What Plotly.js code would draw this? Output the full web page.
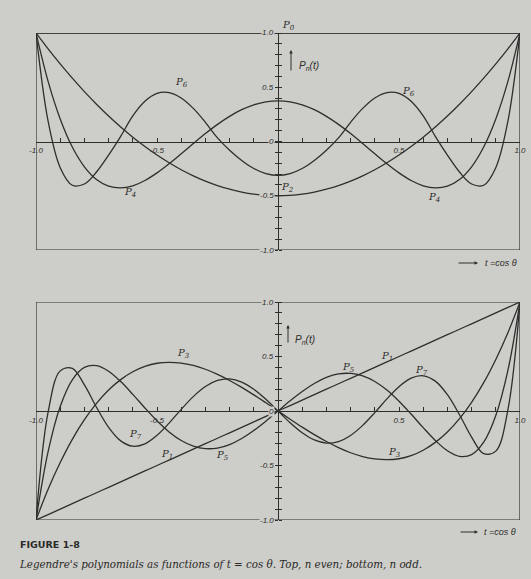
<!DOCTYPE html>
<html>
<head>
<meta charset="utf-8">
<script src="https://cdn.plot.ly/plotly-3.0.1.min.js"></script>
<style>
  html, body { margin: 0; padding: 0; background: #cdcdc9; }
  #chart { width: 531px; height: 579px; }
</style>
</head>
<body>
<div id="chart"></div>
<script>
// Abscissa t = cos(theta), sampled every 0.05
const t = [-1, -0.95, -0.9, -0.85, -0.8, -0.75, -0.7, -0.65, -0.6, -0.55, -0.5,
           -0.45, -0.4, -0.35, -0.3, -0.25, -0.2, -0.15, -0.1, -0.05, 0,
           0.05, 0.1, 0.15, 0.2, 0.25, 0.3, 0.35, 0.4, 0.45, 0.5,
           0.55, 0.6, 0.65, 0.7, 0.75, 0.8, 0.85, 0.9, 0.95, 1];

// Even orders (upper panel)
const p0t = [-1, 1];
const p0 = [1, 1];
const p2 = [1, 0.854, 0.715, 0.584, 0.46, 0.344, 0.235, 0.134, 0.04, -0.046, -0.125,
            -0.196, -0.26, -0.316, -0.365, -0.406, -0.44, -0.466, -0.485, -0.496, -0.5,
            -0.496, -0.485, -0.466, -0.44, -0.406, -0.365, -0.316, -0.26, -0.196, -0.125,
            -0.046, 0.04, 0.134, 0.235, 0.344, 0.46, 0.584, 0.715, 0.854, 1];
const p4 = [1, 0.554, 0.208, -0.051, -0.233, -0.35, -0.412, -0.428, -0.408, -0.359, -0.289,
            -0.205, -0.113, -0.019, 0.073, 0.158, 0.232, 0.293, 0.338, 0.366, 0.375,
            0.366, 0.338, 0.293, 0.232, 0.158, 0.073, -0.019, -0.113, -0.205, -0.289,
            -0.359, -0.408, -0.428, -0.412, -0.35, -0.233, -0.051, 0.208, 0.554, 1];
const p6 = [1, 0.187, -0.241, -0.403, -0.392, -0.281, -0.125, 0.048, 0.236, 0.371, 0.443,
            0.451, 0.401, 0.305, 0.177, 0.033, -0.081, -0.175, -0.249, -0.296, -0.313,
            -0.296, -0.249, -0.175, -0.081, 0.033, 0.177, 0.305, 0.401, 0.451, 0.443,
            0.371, 0.236, 0.048, -0.125, -0.281, -0.392, -0.403, -0.241, 0.187, 1];

// Odd orders (lower panel)
const p1 = [-1, -0.95, -0.9, -0.85, -0.8, -0.75, -0.7, -0.65, -0.6, -0.55, -0.5,
            -0.45, -0.4, -0.35, -0.3, -0.25, -0.2, -0.15, -0.1, -0.05, 0,
            0.05, 0.1, 0.15, 0.2, 0.25, 0.3, 0.35, 0.4, 0.45, 0.5,
            0.55, 0.6, 0.65, 0.7, 0.75, 0.8, 0.85, 0.9, 0.95, 1];
const p3 = [-1, -0.718, -0.473, -0.26, -0.08, 0.07, 0.193, 0.288, 0.36, 0.409, 0.438,
            0.447, 0.44, 0.418, 0.383, 0.336, 0.28, 0.217, 0.148, 0.075, 0,
            -0.075, -0.148, -0.217, -0.28, -0.336, -0.383, -0.418, -0.44, -0.447, -0.438,
            -0.409, -0.36, -0.288, -0.193, -0.07, 0.08, 0.26, 0.473, 0.718, 1];
const p5 = [-1, -0.373, 0.041, 0.286, 0.4, 0.416, 0.365, 0.27, 0.153, 0.028, -0.09,
            -0.192, -0.271, -0.322, -0.345, -0.34, -0.308, -0.252, -0.179, -0.093, 0,
            0.093, 0.179, 0.252, 0.308, 0.34, 0.345, 0.322, 0.271, 0.192, 0.09,
            -0.028, -0.153, -0.27, -0.365, -0.416, -0.4, -0.286, -0.041, 0.373, 1];
const p7 = [-1, -0.011, 0.368, 0.391, 0.24, 0.034, -0.15, -0.274, -0.323, -0.301, -0.223,
            -0.111, 0.015, 0.132, 0.224, 0.28, 0.294, 0.265, 0.199, 0.107, 0,
            -0.107, -0.199, -0.265, -0.294, -0.28, -0.224, -0.132, -0.015, 0.111, 0.223,
            0.301, 0.323, 0.274, 0.15, -0.034, -0.24, -0.391, -0.368, 0.011, 1];

// Axis ticks: a tick every 0.1, labels only at the half units
const xTickVals = [-1, -0.9, -0.8, -0.7, -0.6, -0.5, -0.4, -0.3, -0.2, -0.1, 0,
                   0.1, 0.2, 0.3, 0.4, 0.5, 0.6, 0.7, 0.8, 0.9, 1];
const xTickText = ['-1.0', '', '', '', '', '-0.5', '', '', '', '', '',
                   '', '', '', '', '0.5', '', '', '', '', '1.0'];
const yTickVals = xTickVals;
const yLabelVals = [1, 0.5, 0, -0.5, -1];
const yLabelText = ['1.0', '0.5', '0', '-0.5', '-1.0'];

// Curve name tags: [order, t, value]
const evenTags = [[6, -0.40, 0.54], [6, 0.54, 0.46],
                  [4, -0.61, -0.47], [4, 0.645, -0.52], [2, 0.04, -0.42]];
const oddTags = [[3, -0.39, 0.53], [7, -0.59, -0.22], [1, -0.46, -0.40], [5, -0.23, -0.41],
                 [5, 0.29, 0.40], [1, 0.45, 0.50], [7, 0.595, 0.37], [3, 0.48, -0.38]];

const ink = '#2e2e2c';
const bg = '#cdcdc9';
const W = 531, H = 579, ML = 36, MR = 11;
const px = x => (x - ML) / (W - ML - MR);
const py = y => 1 - y / H;

const topDom = [py(250), py(33)];
const botDom = [py(520), py(302)];

const curve = { color: ink, width: 1.3, shape: 'spline', smoothing: 1 };

function tr(x, y, xa, ya) {
  return { x: x, y: y, xaxis: xa, yaxis: ya, type: 'scatter', mode: 'lines',
           line: curve, hoverinfo: 'skip', showlegend: false };
}

const data = [
  tr(p0t, p0, 'x', 'y'), tr(t, p2, 'x', 'y'), tr(t, p4, 'x', 'y'), tr(t, p6, 'x', 'y'),
  tr(t, p1, 'x2', 'y2'), tr(t, p3, 'x2', 'y2'), tr(t, p5, 'x2', 'y2'), tr(t, p7, 'x2', 'y2'),
  { x: [], y: [], xaxis: 'x', yaxis: 'y3', type: 'scatter', showlegend: false },
  { x: [], y: [], xaxis: 'x2', yaxis: 'y4', type: 'scatter', showlegend: false }
];

const tickFont = { family: 'Liberation Sans, Arial, sans-serif', size: 8, color: ink, style: 'italic' };

function xAxis(pos) {
  return {
    domain: [0, 1], range: [-1, 1], anchor: 'free', position: pos,
    showline: true, linecolor: ink, linewidth: 1.2,
    showgrid: false, zeroline: false,
    tickmode: 'array', tickvals: xTickVals, ticktext: xTickText,
    ticks: 'inside', ticklen: 4, tickwidth: 1, tickcolor: ink,
    tickfont: tickFont, ticklabelstandoff: 1
  };
}
function yAxis(dom) {
  return {
    domain: dom, range: [-1, 1], anchor: 'free', position: 0.5,
    showline: true, linecolor: ink, linewidth: 1.2,
    showgrid: false, zeroline: false, showticklabels: false,
    tickmode: 'array', tickvals: yTickVals,
    ticks: 'outside', ticklen: 3, tickwidth: 1, tickcolor: ink
  };
}
function yMirror(base) {
  return {
    overlaying: base, side: 'right', range: [-1, 1], anchor: 'free', position: 0.5,
    showline: false, showgrid: false, zeroline: false, showticklabels: false,
    tickmode: 'array', tickvals: yTickVals,
    ticks: 'outside', ticklen: 3, tickwidth: 1, tickcolor: ink
  };
}

const frame = (xr, yr) => ({ type: 'rect', xref: xr, yref: yr, x0: -1, x1: 1, y0: -1, y1: 1,
                             line: { color: ink, width: 1.2 }, layer: 'below' });

const annotations = [];
const labFont = { family: 'DejaVu Serif, serif', size: 10, color: ink, style: 'italic' };

// Paper-anchored text, centred vertically on the given pixel row
function paperText(x, y, text, font, xanchor) {
  annotations.push({ xref: 'paper', yref: 'paper', x: px(x), y: py(y),
    xanchor: xanchor || 'left', yanchor: 'middle', text: text, showarrow: false, font: font });
}

evenTags.forEach(([n, x, y]) => annotations.push({
  xref: 'x', yref: 'y', x: x, y: y, yanchor: 'middle', text: 'P<sub>' + n + '</sub>',
  showarrow: false, font: labFont }));
oddTags.forEach(([n, x, y]) => annotations.push({
  xref: 'x2', yref: 'y2', x: x, y: y, yanchor: 'middle', text: 'P<sub>' + n + '</sub>',
  showarrow: false, font: labFont }));
// P0 = 1 runs along the top edge of the upper frame; its tag sits just above it
paperText(288, 25, 'P<sub>0</sub>', labFont, 'center');

// Value labels on the vertical axes, set on the page colour so they break the lines
[['x', 'y'], ['x2', 'y2']].forEach(([xr, yr]) => {
  yLabelVals.forEach((v, i) => annotations.push({
    xref: xr, yref: yr, x: 0, y: v, text: yLabelText[i], xanchor: 'right', yanchor: 'middle',
    xshift: -3, showarrow: false, bgcolor: bg, borderpad: 0, font: tickFont }));
});

// P_n(t) marker with upward arrow, and the t = cos θ marker
const markFont = { family: 'Liberation Sans, Arial, sans-serif', size: 10, color: ink, style: 'italic' };
function pnMarker(ax, ayHead, ayTail, tx, ty) {
  annotations.push({ xref: 'paper', yref: 'paper', x: px(ax), y: py(ayHead), ax: 0, ay: ayTail - ayHead,
    text: '', showarrow: true, arrowhead: 2, arrowsize: 0.7, arrowwidth: 1, arrowcolor: ink });
  paperText(tx, ty, 'P<sub>n</sub>(t)', markFont);
}
function tMarker(x0, x1, tx, y) {
  annotations.push({ xref: 'paper', yref: 'paper', x: px(x1), y: py(y), ax: x0 - x1, ay: 0,
    text: '', showarrow: true, arrowhead: 2, arrowsize: 0.7, arrowwidth: 1, arrowcolor: ink });
  paperText(tx, y, 't =cos θ', { family: 'Liberation Sans, Arial, sans-serif', size: 9, color: ink, style: 'italic' });
}
pnMarker(291, 50, 72, 297, 66);
pnMarker(288, 325, 344, 293, 340);
tMarker(457, 478, 483, 263);
tMarker(459, 478, 482, 532);

// Caption
paperText(18, 544, '<b>FIGURE 1-8</b>',
  { family: 'DejaVu Sans, sans-serif', size: 9.5, color: '#2a2a28' });
paperText(17, 564, "Legendre's polynomials as functions of t = cos θ. Top, n even; bottom, n odd.",
  { family: 'DejaVu Serif, serif', size: 10.3, color: '#2a2a28', style: 'italic' });

const layout = {
  width: W, height: H,
  margin: { l: ML, r: MR, t: 0, b: 0 },
  paper_bgcolor: bg, plot_bgcolor: bg,
  showlegend: false,
  xaxis: xAxis((topDom[0] + topDom[1]) / 2),
  yaxis: yAxis(topDom),
  yaxis3: yMirror('y'),
  xaxis2: xAxis((botDom[0] + botDom[1]) / 2),
  yaxis2: yAxis(botDom),
  yaxis4: yMirror('y2'),
  shapes: [frame('x', 'y'), frame('x2', 'y2')],
  annotations: annotations
};

Plotly.newPlot('chart', data, layout, { displayModeBar: false, staticPlot: true });
</script>
</body>
</html>
